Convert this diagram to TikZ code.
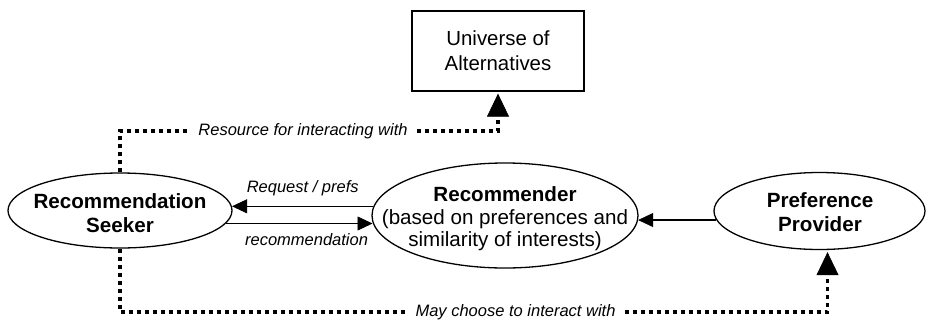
\documentclass[tikz,border=0pt]{standalone}
\usepackage{fontspec}
\setmainfont{Liberation Sans}
\usetikzlibrary{arrows.meta,shapes.geometric}
\begin{document}
\begin{tikzpicture}[x=1pt,y=-1pt,
    actor/.style={draw,ellipse,line width=1.3pt,inner sep=0pt},
    partytext/.style={align=center,font=\fontsize{20.6}{24}\selectfont\bfseries},
    flow/.style={line width=1.3pt,-{Triangle[width=14pt,length=15pt,line width=0.6pt]}},
    dotline/.style={line width=3.8pt,dash pattern=on 4pt off 4pt},
    dotlink/.style={dotline,shorten >=2pt,-{Triangle[width=22pt,length=23pt,line width=0.6pt]}},
    lbl/.style={font=\fontsize{16.5}{19}\selectfont\itshape}]
  \useasboundingbox (0,0) rectangle (926,322);
  % the three parties
  \node[actor,minimum width=224pt,minimum height=75pt] (seeker) at (120,210.5) {};
  \node[partytext] (seekertxt) at (120,213) {Recommendation\\Seeker};
  \node[actor,minimum width=266pt,minimum height=105pt] (rec) at (505,215.5) {};
  \node[align=center,font=\fontsize{20.6}{22.5}\selectfont] (rectxt) at (505,219)
    {\textbf{Recommender}\\(based on preferences and\\similarity of interests)};
  \node[actor,minimum width=211pt,minimum height=77pt] (prov) at (819.5,211) {};
  \node[partytext] (provtxt) at (820,212) {Preference\\Provider};
  \node[draw,line width=1.3pt,minimum width=172pt,minimum height=80pt,align=center,
    font=\fontsize{20.4}{25}\selectfont] (universe) at (498,51) {Universe of\\Alternatives};
  % solid exchanges
  \draw[flow] (rec.176) -- (rec.176 -| seeker.2)
    node[midway,above=6pt,lbl] (reqlbl) {Request / prefs};
  \draw[flow] (seeker.-7) -- (seeker.-7 -| rec.183)
    node[pos=0.55,below=6pt,lbl] (recolbl) {recommendation};
  \draw[flow] (prov.185) -- (prov.185 -| rec.-2);
  % dotted links
  \node[lbl,inner xsep=9pt] (reslbl) at (303,131) {Resource for interacting with};
  \draw[dotline] (seeker.north) |- (reslbl.west);
  \draw[dotlink] (reslbl.east) -| (universe.south);
  \node[lbl,inner xsep=9pt] (maylbl) at (515.5,312) {May choose to interact with};
  \draw[dotline] (seeker.south) |- (maylbl.west);
  \draw[dotlink] (maylbl.east) -| ([xshift=8pt]prov.south);
\end{tikzpicture}
\end{document}
